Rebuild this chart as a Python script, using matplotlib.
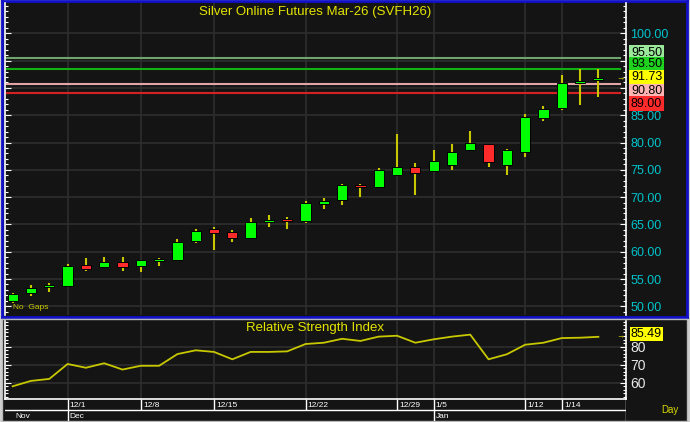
import numpy as np
import matplotlib.pyplot as plt
from matplotlib.transforms import blended_transform_factory

plt.rcParams['font.family'] = ['Liberation Sans', 'DejaVu Sans']

# daily candles, one per session (index 0 = first Nov session shown)
opens = [51.0, 52.4, 53.5, 53.7, 57.55, 57.25, 58.2, 57.45, 58.3, 58.4, 61.9,
         64.15, 63.65, 62.6, 65.45, 65.9, 65.55, 68.8, 69.4, 72.1, 71.8, 74.0,
         75.45, 74.75, 75.95, 78.6, 79.65, 75.95, 78.25, 84.4, 86.25, 90.9, 91.45]
highs = [52.5, 53.85, 54.2, 57.75, 58.85, 59.0, 59.0, 58.55, 58.8, 62.3, 64.2,
         64.5, 63.9, 66.2, 66.65, 66.3, 69.3, 69.9, 72.4, 72.4, 75.3, 81.55,
         76.25, 78.6, 79.7, 82.1, 79.65, 78.85, 85.2, 86.75, 92.3, 93.45, 93.45]
lows = [50.6, 51.9, 52.7, 53.6, 56.5, 57.0, 56.5, 56.3, 57.4, 58.3, 61.65,
        60.25, 61.85, 62.4, 64.55, 64.2, 65.2, 67.9, 68.6, 70.1, 71.6, 73.9,
        70.4, 74.65, 74.95, 78.6, 75.55, 74.05, 77.4, 83.95, 85.9, 86.85, 88.3]
closes = [52.2, 53.35, 53.65, 57.4, 56.9, 58.2, 57.25, 58.5, 58.5, 61.85, 63.85,
          63.4, 62.6, 65.5, 65.75, 65.6, 68.85, 69.35, 72.15, 71.8, 74.9, 75.55,
          74.45, 76.7, 78.2, 79.85, 76.5, 78.55, 84.7, 86.1, 90.85, 91.25, 91.73]
rsi = [58.0, 61.0, 62.1, 70.4, 68.3, 70.8, 67.3, 69.4, 69.4, 75.9, 78.0,
       77.1, 73.0, 77.1, 77.1, 77.4, 81.5, 82.2, 84.4, 83.2, 85.6, 86.1,
       82.2, 84.1, 85.6, 86.7, 73.0, 75.8, 81.1, 82.2, 84.8, 85.0, 85.49]

date_idx = [3, 7, 11, 16, 21, 23, 28, 30]
date_labels = ['12/1', '12/8', '12/15', '12/22', '12/29', '1/5', '1/12', '1/14']
month_idx = [0, 3, 23]
month_labels = ['Nov', 'Dec', 'Jan']

levels = [95.50, 93.50, 90.80, 89.00]
level_colors = ['#6fa36f', '#12b012', '#e2a4a4', '#d42222']
tag_values = [95.50, 93.50, 91.73, 90.80, 89.00]
tag_colors = ['#9be89b', '#1ed21e', '#ffff00', '#ffb4b4', '#ff2a2a']
tag_pos = [96.4, 94.32, 91.99, 89.43, 87.14]   # stacked so the tags don't overlap

BG = '#141414'
GRID = '#2e2e2e'
YEL = '#e4e400'
CYAN = '#00c4cc'

W, H = 690, 422


def px(x0, y0, x1, y1):
    return [x0 / W, 1 - y1 / H, (x1 - x0) / W, (y1 - y0) / H]


fig = plt.figure(figsize=(6.9, 4.22), dpi=100, facecolor='#d0d0d0')

# panel backgrounds
bg_top = fig.add_axes(px(2, 1, 687, 317))
bg_bot = fig.add_axes(px(2, 319, 687, 421))
for a, ec, lw in [(bg_top, '#1010c8', 2.0), (bg_bot, '#b8b8b8', 1.0)]:
    a.set_facecolor(BG)
    a.set_xticks([])
    a.set_yticks([])
    for s in a.spines.values():
        s.set_color(ec)
        s.set_linewidth(lw)

xlim = (-0.42, 33.51)

# ---- price panel
ax = fig.add_axes(px(5, 3, 626, 315))
ax.set_facecolor('none')
ax.set_xlim(*xlim)
ax.set_ylim(48.41, 105.55)
x = np.arange(len(closes))
o = np.array(opens)
c = np.array(closes)
up = c >= o
ax.vlines(x, lows, highs, color='#c8c800', lw=1.5, zorder=3)
bottom = np.minimum(o, c)
height = np.maximum(np.abs(c - o), 0.4)
ax.bar(x, height, bottom=bottom, width=0.56,
       color=np.where(up, '#00ff00', '#ff2a2a'), edgecolor='black', lw=0.7, zorder=4)

for lv, col in zip(levels, level_colors):
    ax.axhline(lv, xmin=0, xmax=0.99, color=col, lw=1.5, zorder=2)

ax.set_xticks(date_idx)
ax.grid(True, color=GRID, lw=1.2, zorder=0)
ax.set_axisbelow(True)
ax.set_yticks(np.arange(50, 101, 5))
ax.set_yticks(np.arange(49, 106, 1), minor=True)
ax.set_yticklabels(['%.2f' % v if v not in (90, 95) else '' for v in np.arange(50, 101, 5)])
ax.tick_params(axis='x', length=0, labelbottom=False)
ax.tick_params(axis='y', which='both', direction='in', left=True, right=True,
               labelleft=False, labelright=True, colors='white', width=0.8,
               labelcolor=CYAN, labelsize=9, pad=3)
ax.tick_params(axis='y', which='major', length=4)
ax.tick_params(axis='y', which='minor', length=2)
for s in ['top', 'bottom']:
    ax.spines[s].set_visible(False)
for s in ['left', 'right']:
    ax.spines[s].set_color('white')
    ax.spines[s].set_linewidth(1.2)

tr = blended_transform_factory(ax.transAxes, ax.transData)
for v, col, pos in zip(tag_values, tag_colors, tag_pos):
    ax.text(1.008, pos, '%.2f' % v, transform=tr, ha='left', va='center',
            fontsize=9, color='black',
            bbox=dict(boxstyle='square,pad=0.12', fc=col, ec='none'))
ax.text(33.22, closes[-1], '→', color=YEL, fontsize=6, ha='center', va='center')

fig.text(315 / W, 1 - 12 / H, 'Silver Online Futures Mar-26 (SVFH26)',
         color=YEL, fontsize=9.5, ha='center', va='center')
ax.text(0.013, 0.012, 'No  Gaps', transform=ax.transAxes, color='#c8c800',
        fontsize=6, ha='left', va='bottom')

# ---- RSI panel
ar = fig.add_axes(px(5, 321, 626, 399))
ar.set_facecolor('none')
ar.set_xlim(*xlim)
ar.set_ylim(50.94, 94.28)
ar.plot(x, rsi, color='#c8c800', lw=1.3, zorder=3)
ar.set_xticks(date_idx)
ar.set_yticks([60, 70, 80])
ar.set_yticks(np.arange(52, 95, 2), minor=True)
ar.grid(True, color=GRID, lw=1.2, zorder=0)
ar.tick_params(axis='x', length=0, labelbottom=False)
ar.tick_params(axis='y', which='both', direction='in', left=True, right=True,
               labelleft=False, labelright=True, colors='white', width=0.8,
               labelcolor='#e8e8e8', labelsize=10, pad=3)
ar.tick_params(axis='y', which='major', length=4)
ar.tick_params(axis='y', which='minor', length=2)
for s in ['left', 'right', 'bottom']:
    ar.spines[s].set_color('white')
    ar.spines[s].set_linewidth(1.2)
ar.spines['top'].set_visible(False)
tr2 = blended_transform_factory(ar.transAxes, ar.transData)
ar.text(1.008, 87.0, '%.2f' % rsi[-1], transform=tr2, ha='left', va='center',
        fontsize=9, color='black',
        bbox=dict(boxstyle='square,pad=0.06', fc='#ffff00', ec='none'))
ar.text(33.22, rsi[-1], '→', color=YEL, fontsize=6, ha='center', va='center')
fig.text(315 / W, 1 - 328 / H, 'Relative Strength Index',
         color=YEL, fontsize=9.5, ha='center', va='center')

# ---- date axis rows
ad = fig.add_axes(px(5, 399, 626, 421))
ad.set_facecolor('none')
ad.set_xlim(*xlim)
ad.set_ylim(0, 2)
ad.axis('off')
ad.axhline(1, color='white', lw=1.0)
ad.vlines(date_idx, 1, 2, color='white', lw=1.0)
ad.vlines(month_idx[1:], 0, 1, color='white', lw=1.0)
ad.vlines([xlim[1]], 0, 2, color='white', lw=1.0)
for i, lab in zip(date_idx, date_labels):
    ad.text(i + 0.12, 1.45, lab, color='white', fontsize=6, ha='left', va='center')
for i, lab in zip(month_idx, month_labels):
    ad.text(i + 0.12, 0.45, lab, color='white', fontsize=6, ha='left', va='center')

fig.text(670 / W, 1 - 410 / H, 'Day', color='#d8d800', fontsize=7,
         ha='center', va='center')

fig.savefig('out.png', dpi=100, facecolor=fig.get_facecolor())
